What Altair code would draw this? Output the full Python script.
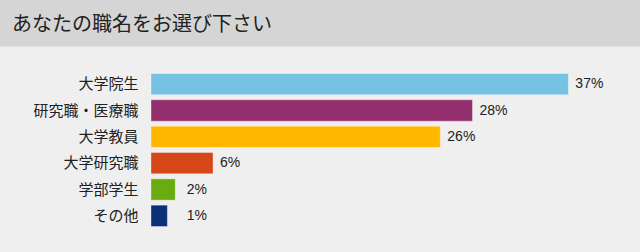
import altair as alt
import pandas as pd

title_text = ["あなたの職名をお選び下さい"]
categories = ["大学院生", "研究職・医療職", "大学教員", "大学研究職", "学部学生", "その他"]
values = [37.0, 28.5, 25.65, 5.5, 2.15, 1.45]
labels = ["37%", "28%", "26%", "6%", "2%", "1%"]
colors = ["#77c1e3", "#932f6e", "#ffb700", "#d64718", "#6aab0f", "#0c2f7a"]

df = pd.DataFrame({"cat": categories, "value": values, "label": labels})

PAD_L, PAD_T, PAD_B = 151, 71, 23
W = 640 - PAD_L
H = 252 - PAD_T - PAD_B

x = alt.X("value:Q", scale=alt.Scale(domain=[0, W / 11.28], nice=False), axis=None)
y = alt.Y("cat:N", sort=categories,
          scale=alt.Scale(paddingInner=0.19, paddingOuter=0.095),
          axis=alt.Axis(title=None, domain=False, ticks=False, labelPadding=13,
                        labelFont="Noto Sans CJK JP", labelFontSize=15,
                        labelColor="#222222", labelAlign="right"))

bars = alt.Chart(df).mark_bar(stroke="white", strokeOpacity=0.35, strokeWidth=1).encode(
    x=x, y=y,
    color=alt.Color("cat:N", scale=alt.Scale(domain=categories, range=colors), legend=None),
)

text = alt.Chart(df).transform_calculate(
    labx="max(datum.value, 2.55)"
).mark_text(align="left", baseline="middle", dx=7, font="Liberation Sans",
            fontSize=14, color="#222222").encode(
    x=alt.X("labx:Q", scale=alt.Scale(domain=[0, W / 11.28], nice=False), axis=None),
    y=alt.Y("cat:N", sort=categories),
    text="label:N",
)

band = alt.Chart(alt.Data(values=[{"t": title_text[0]}])).mark_rect(
    color="#d5d5d5", clip=False).encode(
    x=alt.value(-PAD_L), x2=alt.value(W),
    y=alt.value(-PAD_T), y2=alt.value(-PAD_T + 46.5),
)

title = alt.Chart(alt.Data(values=[{"t": title_text[0]}])).mark_text(
    align="left", baseline="middle", font="Noto Sans CJK JP", fontSize=20,
    color="#222222", clip=False).encode(
    x=alt.value(-PAD_L + 12), y=alt.value(-PAD_T + 24.5), text="t:N",
)

chart = alt.layer(band, title, bars, text).properties(
    width=W, height=H,
    autosize=alt.AutoSizeParams(type="none"),
    padding={"left": PAD_L, "top": PAD_T, "right": 0, "bottom": PAD_B},
    background="#efefef",
).configure_view(stroke=None)

chart.save("out.html", embed_options={"renderer": "svg", "actions": False})
